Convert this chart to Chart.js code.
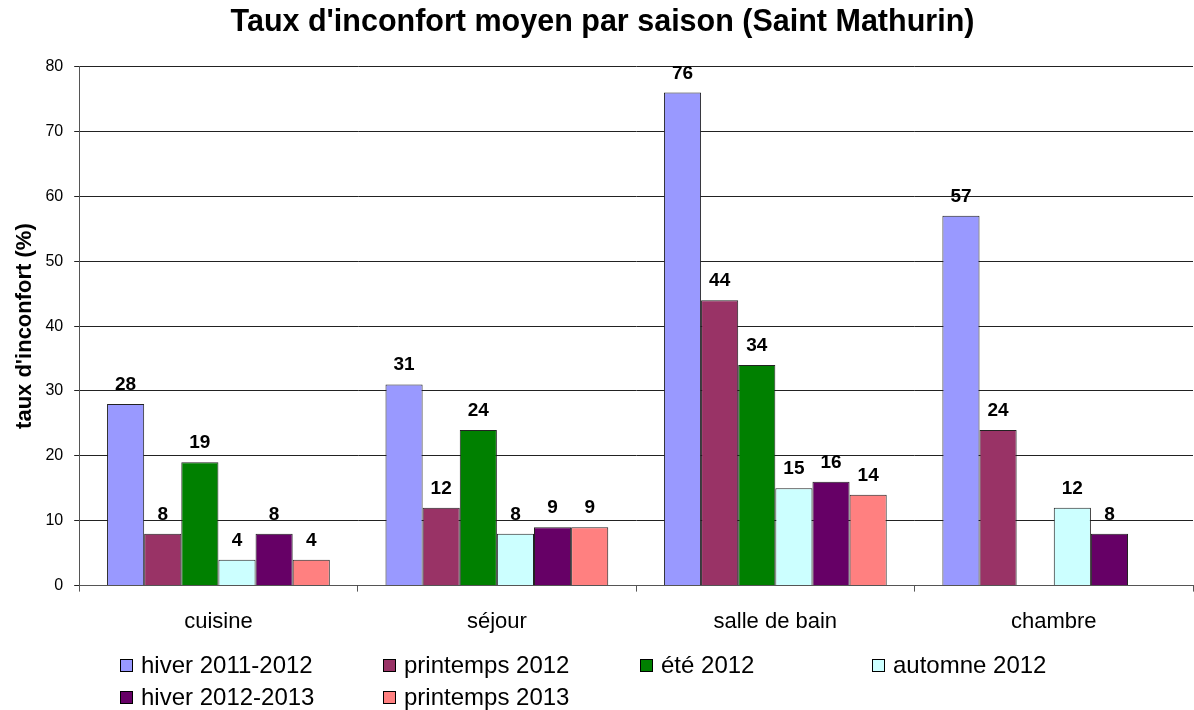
<!DOCTYPE html>
<html>
<head>
<meta charset="utf-8">
<script src="https://cdn.jsdelivr.net/npm/chart.js@4/dist/chart.umd.min.js"></script>
<style>
  html, body { margin: 0; padding: 0; background: #fff; }
  #wrap { position: relative; width: 1194px; height: 710px; }
  #legende {
    position: absolute; left: 0; top: 651px; width: 1194px;
    font-family: "Liberation Sans", Arial, sans-serif; font-size: 24px; color: #000;
  }
  .item { position: absolute; display: flex; align-items: center; white-space: nowrap; }
  .item span.box { width: 11px; height: 11px; border: 1px solid #000; margin-right: 8px; }
</style>
</head>
<body>
<div id="wrap">
  <canvas id="graphique" width="1194" height="710"></canvas>
  <div id="legende"></div>
</div>
<script>
// Données
const pieces = ['cuisine', 'séjour', 'salle de bain', 'chambre'];
const hiver2011 = [28, 31, 76, 57];
const printemps2012 = [8, 12, 44, 24];
const ete2012 = [19, 24, 34, null];
const automne2012 = [4, 8, 15, 12];
const hiver2012 = [8, 9, 16, 8];
const printemps2013 = [4, 9, 14, null];
const graduations = [0, 10, 20, 30, 40, 50, 60, 70, 80];

const police = '"Liberation Sans", Arial, sans-serif';

const series = [
    { label: 'hiver 2011-2012', data: hiver2011, couleur: '#9999FF' },
    { label: 'printemps 2012', data: printemps2012, couleur: '#993366' },
    { label: 'été 2012', data: ete2012, couleur: '#008000' },
    { label: 'automne 2012', data: automne2012, couleur: '#CCFFFF' },
    { label: 'hiver 2012-2013', data: hiver2012, couleur: '#660066' },
    { label: 'printemps 2013', data: printemps2013, couleur: '#FF8080' }
];

// étiquettes au-dessus des barres
const etiquettes = {
    id: 'etiquettes',
    afterDatasetsDraw(chart) {
        const ctx = chart.ctx;
        ctx.save();
        ctx.font = 'bold 19px ' + police;
        ctx.fillStyle = '#000';
        ctx.textAlign = 'center';
        ctx.textBaseline = 'alphabetic';
        chart.data.datasets.forEach((ds, i) => {
            const meta = chart.getDatasetMeta(i);
            meta.data.forEach((barre, j) => {
                const v = ds.data[j];
                if (v === null || v === undefined) return;
                ctx.fillText(v, barre.x, barre.y - 14);
            });
        });
        ctx.restore();
    }
};

const ctx = document.getElementById('graphique').getContext('2d');
const graphique = new Chart(ctx, {
    type: 'bar',
    data: {
        labels: pieces,
        datasets: series.map(s => ({
            label: s.label,
            data: s.data,
            backgroundColor: s.couleur,
            borderColor: '#222',
            borderWidth: 1,
            categoryPercentage: 0.8,
            barPercentage: 1.0
        }))
    },
    options: {
        responsive: false,
        animation: false,
        layout: { padding: { left: 12, right: 1, top: 4, bottom: 58 } },
        plugins: {
            legend: { display: false },
            tooltip: { enabled: false },
            title: {
                display: true,
                text: "Taux d'inconfort moyen par saison (Saint Mathurin)",
                color: '#000',
                font: { family: police, size: 30.5, weight: 'bold' },
                padding: { top: 0, bottom: 26 }
            }
        },
        scales: {
            x: {
                grid: { drawOnChartArea: false, drawTicks: true, tickLength: 6, offset: true, color: '#555' },
                border: { color: '#555' },
                ticks: { color: '#000', font: { family: police, size: 22 }, padding: 17 }
            },
            y: {
                min: 0,
                max: 80,
                afterBuildTicks(axe) { axe.ticks = graduations.map(v => ({ value: v })); },
                grid: { color: '#222', tickLength: 5 },
                border: { color: '#555' },
                ticks: { color: '#000', font: { family: police, size: 16 }, padding: 11 },
                title: {
                    display: true,
                    text: "taux d'inconfort (%)",
                    color: '#000',
                    font: { family: police, size: 22, weight: 'bold' },
                    padding: { top: 0, bottom: -4 }
                }
            }
        }
    },
    plugins: [etiquettes]
});

// légende façon Excel : 4 colonnes
const colonnes = [120, 383, 640, 872];
const legende = document.getElementById('legende');
series.forEach((s, i) => {
    const el = document.createElement('div');
    el.className = 'item';
    el.style.left = colonnes[i % 4] + 'px';
    el.style.top = (Math.floor(i / 4) * 32) + 'px';
    el.innerHTML = '<span class="box" style="background:' + s.couleur + '"></span>' + s.label;
    legende.appendChild(el);
});
</script>
</body>
</html>
